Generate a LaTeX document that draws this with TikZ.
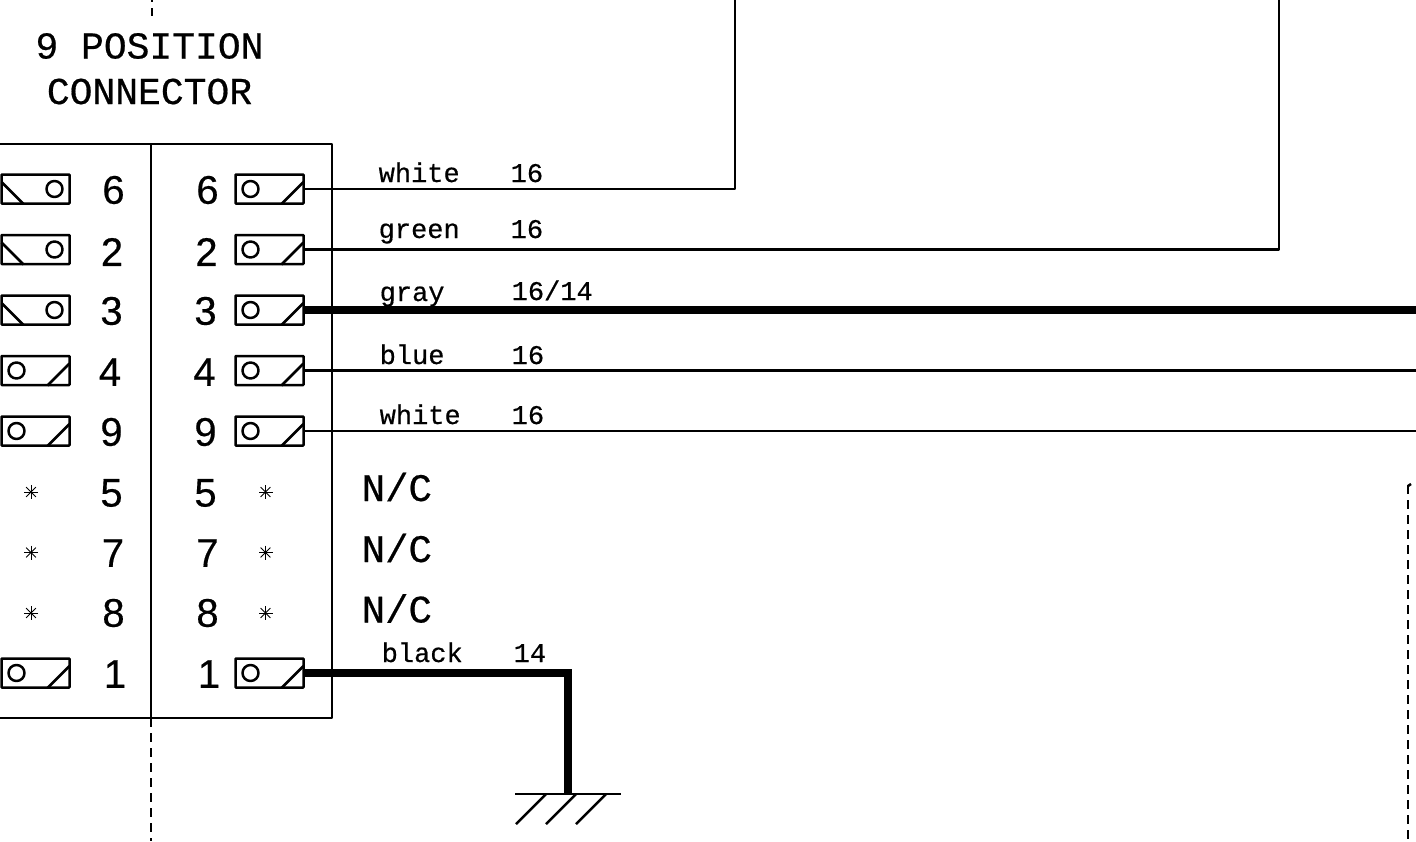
\documentclass[tikz,border=0pt]{standalone}
\usepackage{fontspec}
\setmainfont[RawFeature={embolden=0.4}]{Liberation Sans}
\setmonofont[RawFeature={embolden=0.5}]{Liberation Mono}
\newcommand{\pxfont}[1]{\fontsize{#1}{#1}\selectfont}
\tikzset{
  x=1pt,y=-1pt,
  wire/.style={line width=2.5pt,line join=round,line cap=butt},
  heavywire/.style={line width=7.5pt,line join=miter},
  dashwire/.style={line width=2.5pt,dash pattern=on 9pt off 6pt},
  pinbox/.style={draw,line width=2.5pt,rounded corners=0.7pt,minimum width=68pt,minimum height=29pt,inner sep=0,outer sep=0.5pt},
  titletext/.style={font=\ttfamily\pxfont{38},inner sep=0},
  wirelabel/.style={font=\ttfamily\pxfont{27},inner sep=0,anchor=base west},
  numtext/.style={font=\pxfont{40},inner sep=0},
  nctext/.style={font=\ttfamily\pxfont{39},inner sep=0,anchor=base west},
  starmark/.style={inner sep=0,minimum size=14pt},
}
% #1 name, #2 x, #3 y : slash on the right, circle on the left
\newcommand{\pinR}[3]{%
  \node[pinbox] (#1) at (#2,#3) {};
  \draw[wire] (#2-19,#3) circle[radius=8pt];
  \draw[wire] (#2+12,#3+15) -- (#2+34,#3-7);
}
% slash at the left, circle on the right
\newcommand{\pinL}[3]{%
  \node[pinbox] (#1) at (#2,#3) {};
  \draw[wire] (#2+19,#3) circle[radius=8pt];
  \draw[wire] (#2-34,#3-7) -- (#2-12,#3+15);
}
\newcommand{\starmk}[3]{%
  \node[starmark] (#1) at (#2,#3) {};
  \foreach \a in {0,45,...,135}{\draw[line width=0.8pt] (#1.center) ++(\a:7pt) -- ++(\a+180:14pt);}
}
\begin{document}
\begin{tikzpicture}
\useasboundingbox (0,0) rectangle (1416,841);
\node[titletext] (t1) at (149.5,46) {9 POSITION};
\node[titletext] (t2) at (149.5,91.5) {CONNECTOR};
% housing
\coordinate (hTL) at (0,144);
\coordinate (hTR) at (332,144);
\coordinate (hBR) at (332,718);
\coordinate (hBL) at (0,718);
\draw[wire] (hTL) -- (hTR) -- (hBR) -- (hBL);
\coordinate (divT) at (151,144);
\coordinate (divB) at (151,718);
\draw[wire] (divT) -- (divB);
\coordinate (dashA) at (152,-7);
\coordinate (dashB) at (152,16);
\draw[dashwire] (dashA) -- (dashB);
\coordinate (dashC) at (151,718);
\coordinate (dashD) at (151,841);
\draw[dashwire] (dashC) -- (dashD);
\coordinate (dashE) at (1408,485);
\coordinate (dashF) at (1408,841);
\draw[dashwire] (dashE) -- (dashF);
\coordinate (hook) at (1411,484);
\draw[wire] (1408,486) -- (hook);
% left pins
\pinL{l6}{35.5}{189}
\pinL{l2}{35.5}{249.5}
\pinL{l3}{35.5}{310}
\pinR{l4}{35.5}{370.5}
\pinR{l9}{35.5}{431}
\pinR{l1}{35.5}{673}
% right pins
\pinR{r6}{269.5}{189}
\pinR{r2}{269.5}{249.5}
\pinR{r3}{269.5}{310}
\pinR{r4}{269.5}{370.5}
\pinR{r9}{269.5}{431}
\pinR{r1}{269.5}{673}
% stars
\starmk{sl5}{31}{492}
\starmk{sl7}{31}{552.5}
\starmk{sl8}{31}{613}
\starmk{sr5}{265.5}{492}
\starmk{sr7}{265.5}{552.5}
\starmk{sr8}{265.5}{613}
% numbers
\node[numtext] (nl6) at (113.5,190) {6};
\node[numtext] (nl2) at (112,252) {2};
\node[numtext] (nl3) at (111.5,311) {3};
\node[numtext] (nl4) at (110,372) {4};
\node[numtext] (nl9) at (111.5,432) {9};
\node[numtext] (nl5) at (111.5,493) {5};
\node[numtext] (nl7) at (113,553) {7};
\node[numtext] (nl8) at (113.5,613) {8};
\node[numtext] (nl1) at (115,674) {1};
\node[numtext] (nr6) at (207.5,190) {6};
\node[numtext] (nr2) at (206.5,252) {2};
\node[numtext] (nr3) at (205.5,311) {3};
\node[numtext] (nr4) at (204.5,372) {4};
\node[numtext] (nr9) at (205.5,432) {9};
\node[numtext] (nr5) at (205.5,493) {5};
\node[numtext] (nr7) at (207.5,553) {7};
\node[numtext] (nr8) at (207.5,613) {8};
\node[numtext] (nr1) at (209,674) {1};
% wires
\coordinate (w6top) at (735,0);
\coordinate (w2top) at (1279,0);
\coordinate (w3end) at (1416,310);
\coordinate (w4end) at (1416,370.5);
\coordinate (w9end) at (1416,431);
\draw[wire] (r6.east) -| (w6top);
\draw[wire] (r2.east) -| (w2top);
\draw[heavywire] (r3.east) -- (w3end);
\draw[wire] (r4.east) -- (w4end);
\draw[wire] (r9.east) -- (w9end);
\coordinate (gnd) at (568,794);
\draw[heavywire] (r1.east) -| (gnd);
\coordinate (gndL) at (515,794);
\coordinate (gndR) at (621,794);
\draw[wire] (gndL) -- (gndR);
\draw[wire] (546,794) -- (516,824);
\draw[wire] (576,794) -- (546,824);
\draw[wire] (606,794) -- (576,824);
% wire labels
\node[wirelabel] (c1) at (378.5,182) {white};
\node[wirelabel] (g1) at (510.5,182) {16};
\node[wirelabel] (c2) at (378.5,238) {green};
\node[wirelabel] (g2) at (510.5,238) {16};
\node[wirelabel] (c3) at (379.5,301) {gray};
\node[wirelabel] (g3) at (511.5,300) {16/14};
\node[wirelabel] (c4) at (379.5,364) {blue};
\node[wirelabel] (g4) at (511.5,364) {16};
\node[wirelabel] (c5) at (379.5,424) {white};
\node[wirelabel] (g5) at (511.5,424) {16};
\node[wirelabel] (c6) at (381.5,662) {black};
\node[wirelabel] (g6) at (513.5,662) {14};
\node[nctext] (nc5) at (361.5,501) {N/C};
\node[nctext] (nc7) at (361.5,562) {N/C};
\node[nctext] (nc8) at (361.5,622.5) {N/C};
\end{tikzpicture}
\end{document}
